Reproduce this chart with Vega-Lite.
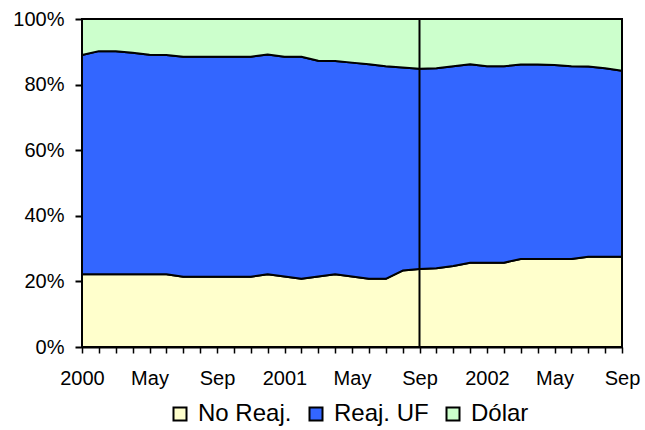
{
  "$schema": "https://vega.github.io/schema/vega-lite/v6.json",
  "width": 540,
  "height": 328,
  "autosize": "none",
  "padding": {"left": 82, "top": 19, "right": 23, "bottom": 83},
  "background": "white",
  "config": {
    "font": "Liberation Sans",
    "view": {"stroke": "black", "strokeWidth": 2}
  },
  "layer": [
    {
      "data": {
        "values": [
          {"mes": "2000-01", "serie": "No Reaj.", "orden": 1, "pct": 22.2}, {"mes": "2000-01", "serie": "Reaj. UF", "orden": 2, "pct": 66.8}, {"mes": "2000-01", "serie": "Dólar", "orden": 3, "pct": 11.0},
          {"mes": "2000-02", "serie": "No Reaj.", "orden": 1, "pct": 22.2}, {"mes": "2000-02", "serie": "Reaj. UF", "orden": 2, "pct": 68.0}, {"mes": "2000-02", "serie": "Dólar", "orden": 3, "pct": 9.8},
          {"mes": "2000-03", "serie": "No Reaj.", "orden": 1, "pct": 22.2}, {"mes": "2000-03", "serie": "Reaj. UF", "orden": 2, "pct": 68.0}, {"mes": "2000-03", "serie": "Dólar", "orden": 3, "pct": 9.8},
          {"mes": "2000-04", "serie": "No Reaj.", "orden": 1, "pct": 22.2}, {"mes": "2000-04", "serie": "Reaj. UF", "orden": 2, "pct": 67.5}, {"mes": "2000-04", "serie": "Dólar", "orden": 3, "pct": 10.3},
          {"mes": "2000-05", "serie": "No Reaj.", "orden": 1, "pct": 22.2}, {"mes": "2000-05", "serie": "Reaj. UF", "orden": 2, "pct": 66.9}, {"mes": "2000-05", "serie": "Dólar", "orden": 3, "pct": 10.9},
          {"mes": "2000-06", "serie": "No Reaj.", "orden": 1, "pct": 22.2}, {"mes": "2000-06", "serie": "Reaj. UF", "orden": 2, "pct": 66.8}, {"mes": "2000-06", "serie": "Dólar", "orden": 3, "pct": 11.0},
          {"mes": "2000-07", "serie": "No Reaj.", "orden": 1, "pct": 21.4}, {"mes": "2000-07", "serie": "Reaj. UF", "orden": 2, "pct": 67.1}, {"mes": "2000-07", "serie": "Dólar", "orden": 3, "pct": 11.5},
          {"mes": "2000-08", "serie": "No Reaj.", "orden": 1, "pct": 21.4}, {"mes": "2000-08", "serie": "Reaj. UF", "orden": 2, "pct": 67.1}, {"mes": "2000-08", "serie": "Dólar", "orden": 3, "pct": 11.5},
          {"mes": "2000-09", "serie": "No Reaj.", "orden": 1, "pct": 21.4}, {"mes": "2000-09", "serie": "Reaj. UF", "orden": 2, "pct": 67.1}, {"mes": "2000-09", "serie": "Dólar", "orden": 3, "pct": 11.5},
          {"mes": "2000-10", "serie": "No Reaj.", "orden": 1, "pct": 21.4}, {"mes": "2000-10", "serie": "Reaj. UF", "orden": 2, "pct": 67.1}, {"mes": "2000-10", "serie": "Dólar", "orden": 3, "pct": 11.5},
          {"mes": "2000-11", "serie": "No Reaj.", "orden": 1, "pct": 21.4}, {"mes": "2000-11", "serie": "Reaj. UF", "orden": 2, "pct": 67.1}, {"mes": "2000-11", "serie": "Dólar", "orden": 3, "pct": 11.5},
          {"mes": "2000-12", "serie": "No Reaj.", "orden": 1, "pct": 22.2}, {"mes": "2000-12", "serie": "Reaj. UF", "orden": 2, "pct": 67.0}, {"mes": "2000-12", "serie": "Dólar", "orden": 3, "pct": 10.8},
          {"mes": "2001-01", "serie": "No Reaj.", "orden": 1, "pct": 21.5}, {"mes": "2001-01", "serie": "Reaj. UF", "orden": 2, "pct": 67.0}, {"mes": "2001-01", "serie": "Dólar", "orden": 3, "pct": 11.5},
          {"mes": "2001-02", "serie": "No Reaj.", "orden": 1, "pct": 20.8}, {"mes": "2001-02", "serie": "Reaj. UF", "orden": 2, "pct": 67.7}, {"mes": "2001-02", "serie": "Dólar", "orden": 3, "pct": 11.5},
          {"mes": "2001-03", "serie": "No Reaj.", "orden": 1, "pct": 21.5}, {"mes": "2001-03", "serie": "Reaj. UF", "orden": 2, "pct": 65.8}, {"mes": "2001-03", "serie": "Dólar", "orden": 3, "pct": 12.7},
          {"mes": "2001-04", "serie": "No Reaj.", "orden": 1, "pct": 22.2}, {"mes": "2001-04", "serie": "Reaj. UF", "orden": 2, "pct": 65.0}, {"mes": "2001-04", "serie": "Dólar", "orden": 3, "pct": 12.8},
          {"mes": "2001-05", "serie": "No Reaj.", "orden": 1, "pct": 21.5}, {"mes": "2001-05", "serie": "Reaj. UF", "orden": 2, "pct": 65.2}, {"mes": "2001-05", "serie": "Dólar", "orden": 3, "pct": 13.3},
          {"mes": "2001-06", "serie": "No Reaj.", "orden": 1, "pct": 20.8}, {"mes": "2001-06", "serie": "Reaj. UF", "orden": 2, "pct": 65.4}, {"mes": "2001-06", "serie": "Dólar", "orden": 3, "pct": 13.8},
          {"mes": "2001-07", "serie": "No Reaj.", "orden": 1, "pct": 20.8}, {"mes": "2001-07", "serie": "Reaj. UF", "orden": 2, "pct": 64.8}, {"mes": "2001-07", "serie": "Dólar", "orden": 3, "pct": 14.4},
          {"mes": "2001-08", "serie": "No Reaj.", "orden": 1, "pct": 23.3}, {"mes": "2001-08", "serie": "Reaj. UF", "orden": 2, "pct": 61.9}, {"mes": "2001-08", "serie": "Dólar", "orden": 3, "pct": 14.8},
          {"mes": "2001-09", "serie": "No Reaj.", "orden": 1, "pct": 23.8}, {"mes": "2001-09", "serie": "Reaj. UF", "orden": 2, "pct": 61.0}, {"mes": "2001-09", "serie": "Dólar", "orden": 3, "pct": 15.2},
          {"mes": "2001-10", "serie": "No Reaj.", "orden": 1, "pct": 24.0}, {"mes": "2001-10", "serie": "Reaj. UF", "orden": 2, "pct": 61.0}, {"mes": "2001-10", "serie": "Dólar", "orden": 3, "pct": 15.0},
          {"mes": "2001-11", "serie": "No Reaj.", "orden": 1, "pct": 24.7}, {"mes": "2001-11", "serie": "Reaj. UF", "orden": 2, "pct": 60.9}, {"mes": "2001-11", "serie": "Dólar", "orden": 3, "pct": 14.4},
          {"mes": "2001-12", "serie": "No Reaj.", "orden": 1, "pct": 25.7}, {"mes": "2001-12", "serie": "Reaj. UF", "orden": 2, "pct": 60.5}, {"mes": "2001-12", "serie": "Dólar", "orden": 3, "pct": 13.8},
          {"mes": "2002-01", "serie": "No Reaj.", "orden": 1, "pct": 25.7}, {"mes": "2002-01", "serie": "Reaj. UF", "orden": 2, "pct": 59.9}, {"mes": "2002-01", "serie": "Dólar", "orden": 3, "pct": 14.4},
          {"mes": "2002-02", "serie": "No Reaj.", "orden": 1, "pct": 25.7}, {"mes": "2002-02", "serie": "Reaj. UF", "orden": 2, "pct": 59.9}, {"mes": "2002-02", "serie": "Dólar", "orden": 3, "pct": 14.4},
          {"mes": "2002-03", "serie": "No Reaj.", "orden": 1, "pct": 26.8}, {"mes": "2002-03", "serie": "Reaj. UF", "orden": 2, "pct": 59.3}, {"mes": "2002-03", "serie": "Dólar", "orden": 3, "pct": 13.9},
          {"mes": "2002-04", "serie": "No Reaj.", "orden": 1, "pct": 26.8}, {"mes": "2002-04", "serie": "Reaj. UF", "orden": 2, "pct": 59.3}, {"mes": "2002-04", "serie": "Dólar", "orden": 3, "pct": 13.9},
          {"mes": "2002-05", "serie": "No Reaj.", "orden": 1, "pct": 26.8}, {"mes": "2002-05", "serie": "Reaj. UF", "orden": 2, "pct": 59.2}, {"mes": "2002-05", "serie": "Dólar", "orden": 3, "pct": 14.0},
          {"mes": "2002-06", "serie": "No Reaj.", "orden": 1, "pct": 26.8}, {"mes": "2002-06", "serie": "Reaj. UF", "orden": 2, "pct": 58.8}, {"mes": "2002-06", "serie": "Dólar", "orden": 3, "pct": 14.4},
          {"mes": "2002-07", "serie": "No Reaj.", "orden": 1, "pct": 27.5}, {"mes": "2002-07", "serie": "Reaj. UF", "orden": 2, "pct": 58.0}, {"mes": "2002-07", "serie": "Dólar", "orden": 3, "pct": 14.5},
          {"mes": "2002-08", "serie": "No Reaj.", "orden": 1, "pct": 27.5}, {"mes": "2002-08", "serie": "Reaj. UF", "orden": 2, "pct": 57.5}, {"mes": "2002-08", "serie": "Dólar", "orden": 3, "pct": 15.0},
          {"mes": "2002-09", "serie": "No Reaj.", "orden": 1, "pct": 27.5}, {"mes": "2002-09", "serie": "Reaj. UF", "orden": 2, "pct": 56.7}, {"mes": "2002-09", "serie": "Dólar", "orden": 3, "pct": 15.8}
        ]
      },
      "mark": {"type": "area", "stroke": "black", "strokeWidth": 2, "strokeJoin": "round"},
      "encoding": {
        "x": {
          "field": "mes",
          "type": "ordinal",
          "scale": {"type": "point", "padding": 0},
          "axis": {
            "title": null,
            "labelAngle": 0,
            "labelOverlap": false,
            "labelExpr": "slice(datum.value, 5) == '01' ? slice(datum.value, 0, 4) : slice(datum.value, 5) == '05' ? 'May' : slice(datum.value, 5) == '09' ? 'Sep' : ''",
            "labelFontSize": 20,
            "labelColor": "black",
            "labelPadding": 15,
            "tickSize": 6,
            "tickWidth": 1.5,
            "tickColor": "black",
            "domainColor": "black",
            "domainWidth": 2,
            "grid": false
          }
        },
        "y": {
          "field": "pct",
          "type": "quantitative",
          "stack": "zero",
          "scale": {"domain": [0, 100], "nice": false},
          "axis": {
            "title": null,
            "values": [0, 20, 40, 60, 80, 100],
            "labelExpr": "datum.value + '%'",
            "labelFontSize": 20,
            "labelColor": "black",
            "labelPadding": 11,
            "tickSize": 7,
            "tickWidth": 2,
            "tickColor": "black",
            "domainColor": "black",
            "domainWidth": 2,
            "grid": false
          }
        },
        "order": {"field": "orden", "type": "quantitative"},
        "color": {
          "field": "serie",
          "type": "nominal",
          "scale": {
            "domain": ["No Reaj.", "Reaj. UF", "Dólar"],
            "range": ["#FFFFCC", "#3366FF", "#CCFFCC"]
          },
          "legend": {
            "title": null,
            "orient": "none",
            "direction": "horizontal",
            "legendX": 86,
            "legendY": 383,
            "symbolType": "square",
            "symbolSize": 169,
            "symbolStrokeColor": "black",
            "symbolStrokeWidth": 2,
            "labelFontSize": 24,
            "labelColor": "black",
            "labelOffset": 6,
            "columnPadding": 12
          }
        }
      }
    },
    {
      "data": {"values": [{"mes": "2001-09"}]},
      "mark": {"type": "rule", "color": "black", "strokeWidth": 2},
      "encoding": {
        "x": {"field": "mes", "type": "ordinal"}
      }
    }
  ]
}
